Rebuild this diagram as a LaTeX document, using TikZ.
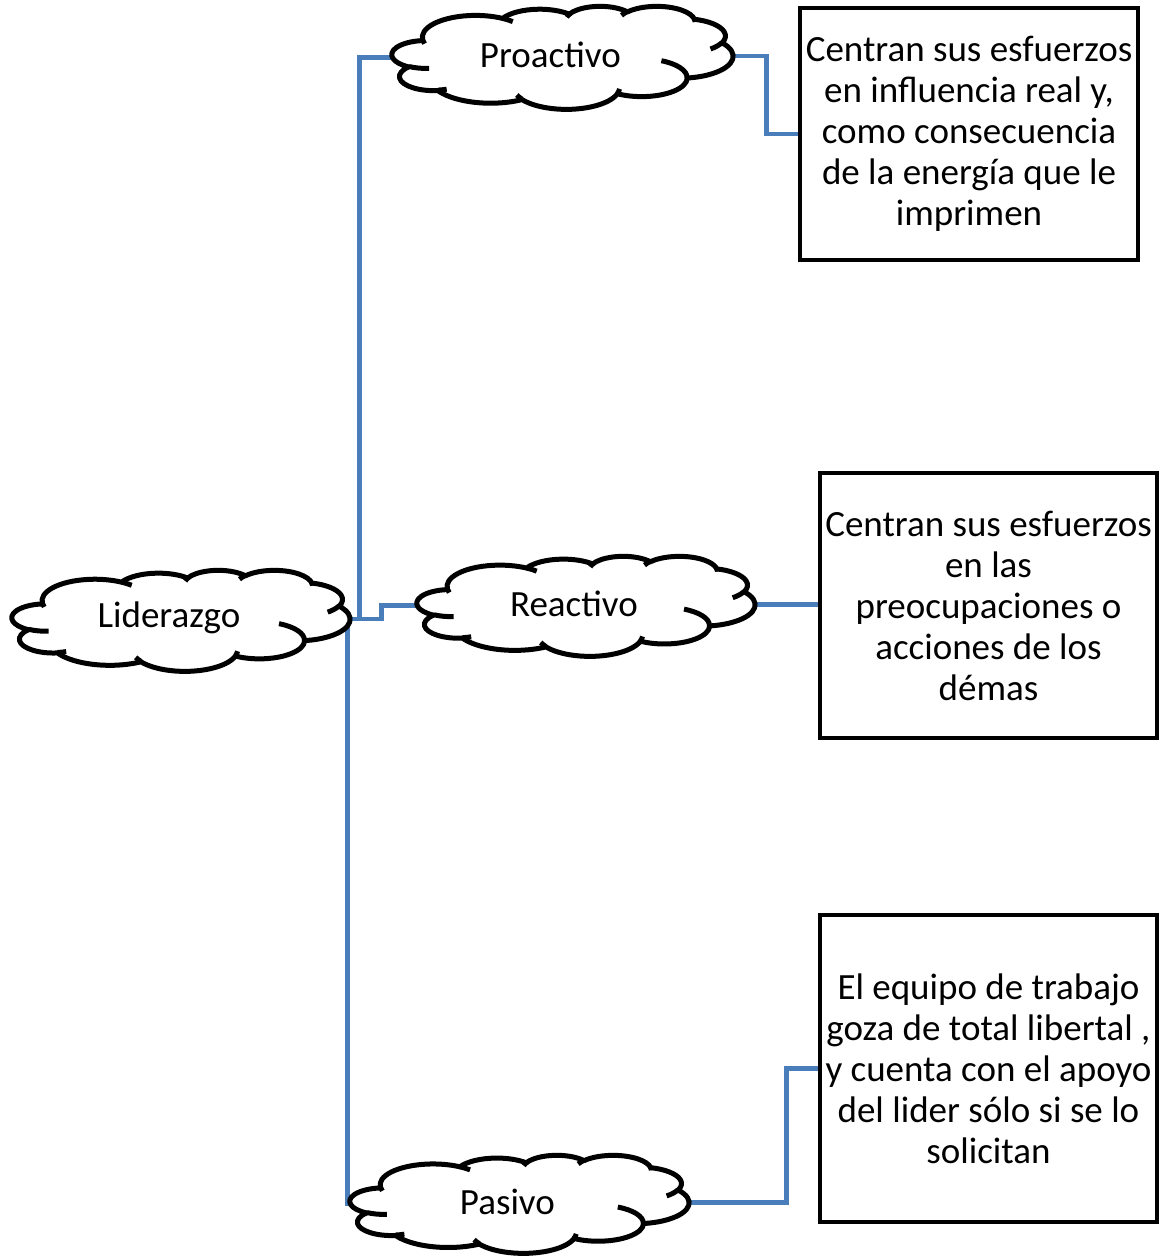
\documentclass[tikz,border=0pt]{standalone}
\usepackage{fontspec}
\setmainfont{Carlito}
\usetikzlibrary{calc}
\definecolor{linkblue}{HTML}{4A7EBB}
\pgfdeclarelayer{paper}
\pgfdeclarelayer{wires}
\pgfsetlayers{paper,wires,main}

% Cloud outline in a 432 x 432 local frame (y down); arcs are given by
% radii, visual start angle and sweep, converted to parametric angles.
\newcommand\cloudshape[6]{%
  \begin{scope}[shift={(#2,#3)},x={(#4pt/432,0pt)},y={(0pt,-#5pt/432)}]
    \path[cloudline,fill=white] (39.00,143.70)
      arc[cloudarc={67.53}{91.90}{-190.48748}{123.78053}]
      arc[cloudarc={53.33}{72.67}{-144.10238}{89.94523}]
      arc[cloudarc={43.65}{59.45}{-145.80792}{99.72302}]
      arc[cloudarc={48.57}{65.95}{-130.98607}{117.24173}]
      arc[cloudarc={53.33}{72.73}{-78.70888}{109.02692}]
      arc[cloudarc={67.75}{92.20}{-46.26725}{130.269}]
      arc[cloudarc={57.85}{78.67}{0.62502}{114.03333}]
      arc[cloudarc={67.52}{92.15}{22.4516}{115.17255}]
      arc[cloudarc={77.20}{105.43}{66.24263}{75.71102}]
      arc[cloudarc={43.60}{59.18}{-274.94208}{146.73557}]
      arc[cloudarc={43.45}{59.45}{-246.8285}{152.51885}]
      -- cycle;
    \path[cloudline]
      (46.93,261.77) arc[cloudarc={43.45}{59.45}{86.742}{26.4295}]
      (69.28,348.99) arc[cloudarc={43.60}{59.18}{73.61047}{11.44747}]
      (164.78,390.90) arc[cloudarc={67.52}{92.15}{137.62415}{14.0811}]
      (288.27,347.51) arc[cloudarc={67.52}{92.15}{6.45327}{15.99835}]
      (341.29,229.54) arc[cloudarc={57.85}{78.67}{-70.29235}{70.91737}]
      (417.98,153.54) arc[cloudarc={53.33}{72.73}{30.31803}{27.7515}]
      (383.24,54.26) arc[cloudarc={48.57}{65.95}{-13.74433}{14.8589}]
      (290.78,39.52) arc[cloudarc={48.57}{65.95}{-149.18145}{18.19537}]
      (221.41,47.20) arc[cloudarc={43.65}{59.45}{-163.49427}{20.7458}]
      (140.00,51.92) arc[cloudarc={67.53}{91.90}{-66.70695}{12.31935}]
      (41.27,157.89) arc[cloudarc={67.53}{91.90}{157.65435}{11.85817}];
    \node[cloudlabel] (#1) at (200.6,206.0) {#6};
    \coordinate (#1-w) at (1,215);
    \coordinate (#1-e) at (431,210);
  \end{scope}}

\begin{document}
\begin{tikzpicture}[x=1pt,y=-1pt,
  declare function={
    pa(\ang,\rx,\ry)=atan2(\rx*sin(\ang),\ry*cos(\ang));
    pd(\ang,\swp,\rx,\ry)=(pa(\ang+\swp,\rx,\ry)-pa(\ang,\rx,\ry))
      +360*round((\swp-(pa(\ang+\swp,\rx,\ry)-pa(\ang,\rx,\ry)))/360);
  },
  cloudarc/.style n args={4}{x radius=#1,y radius=#2,
    start angle={pa(#3,#1,#2)},delta angle={pd(#3,#4,#1,#2)}},
  cloudline/.style={draw=black,line width=5pt,line join=round},
  cloudlabel/.style={inner sep=0pt,font=\fontsize{37}{41}\selectfont},
  link/.style={draw=linkblue,line width=4.6pt},
  textbox/.style={draw=black,line width=4.6pt,fill=white,align=center,
    inner sep=0pt,font=\fontsize{37}{41}\selectfont},
]
\begin{pgfonlayer}{paper}
  \fill[white] (0,0) rectangle (1161,1256);
\end{pgfonlayer}
\useasboundingbox (0,0) rectangle (1161,1256);

% the four clouds
\cloudshape{lid}{12}{570}{338}{101}{Liderazgo}
\cloudshape{pro}{392}{6}{341}{103}{Proactivo}
\cloudshape{rea}{417}{556}{338}{100}{Reactivo}
\cloudshape{pas}{350}{1155}{339}{98}{Pasivo}

% description boxes
\node[textbox,minimum width=338pt,minimum height=252pt] (b1) at (969,134)
  {Centran sus esfuerzos\\en influencia real y,\\como consecuencia\\de la energía que le\\imprimen};
\node[textbox,minimum width=337pt,minimum height=265pt] (b2) at (988.5,605.5)
  {Centran sus esfuerzos\\en las\\preocupaciones o\\acciones de los\\démas};
\node[textbox,minimum width=337pt,minimum height=307pt] (b3) at (988.5,1068.5)
  {El equipo de trabajo\\goza de total libertal ,\\y cuenta con el apoyo\\del lider sólo si se lo\\solicitan};

% elbow connectors
\begin{pgfonlayer}{wires}
  \draw[link] (lid-e) -- ([xshift=10pt]lid-e) |- (pro-w);
  \draw[link] (lid-e) -- ([xshift=32pt]lid-e) |- (rea-w);
  \draw[link] ([xshift=-2pt]lid-e) |- (pas-w);
  \draw[link] (pro-e) -- ([xshift=34pt]pro-e) |- (b1.west);
  \draw[link] (rea-e) -- (rea-e -| b2.west);
  \draw[link] (pas-e) -- ([xshift=98pt]pas-e) |- (b3.west);
\end{pgfonlayer}
\end{tikzpicture}
\end{document}
